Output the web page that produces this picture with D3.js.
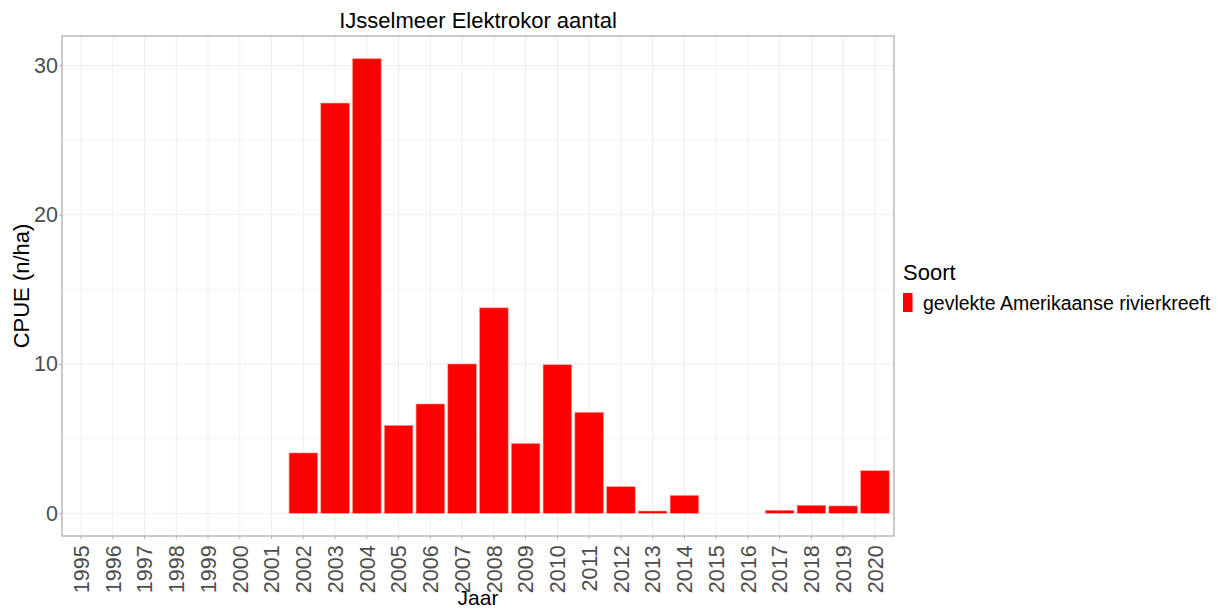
<!DOCTYPE html>
<html>
<head>
<meta charset="utf-8">
<script src="https://cdn.jsdelivr.net/npm/d3@7"></script>
<style>
  body { margin: 0; background: #fff; }
  text { font-family: "Liberation Sans", Arial, sans-serif; }
</style>
</head>
<body>
<div id="chart"></div>
<script>
// DATA
const years = d3.range(1995, 2021).map(String)
const cpue = [0, 0, 0, 0, 0, 0, 0, 4.04, 27.48, 30.45, 5.88, 7.32, 10.0, 13.76, 4.67,
    9.95, 6.76, 1.78, 0.15, 1.2, 0, 0, 0.2, 0.53, 0.49, 2.85]
const yTicks = [0, 10, 20, 30]
const yMinor = [5, 15, 25]
const seriesName = 'gevlekte Amerikaanse rivierkreeft'

const data = years.map((y, i) => ({year: y, value: cpue[i]}))

const W = 1225, H = 610
const margin = {top: 36, right: 331, bottom: 74, left: 62}
const innerW = W - margin.left - margin.right
const innerH = H - margin.top - margin.bottom

const svg = d3.select('#chart').append('svg')
    .attr('width', W)
    .attr('height', H)

const g = svg.append('g')
    .attr('transform', `translate(${margin.left},${margin.top})`)

// ggplot style discrete scale: 0.6 band expansion on both sides
const step = innerW / (years.length - 1 + 1.2)
const x = d3.scaleBand()
    .domain(years)
    .range([0.1 * step, innerW - 0.1 * step])
    .paddingInner(0.1)
    .paddingOuter(0.05)

const yMax = d3.max(cpue)
const y = d3.scaleLinear()
    .domain([-yMax * 0.05, yMax * 1.05])
    .range([innerH, 0])

// grid
g.append('g').selectAll('line.minor')
    .data(yMinor)
    .join('line')
    .attr('x1', 0).attr('x2', innerW)
    .attr('y1', d => y(d)).attr('y2', d => y(d))
    .attr('stroke', '#F4F4F4')
    .attr('stroke-width', 1)

g.append('g').selectAll('line.major')
    .data(yTicks)
    .join('line')
    .attr('x1', 0).attr('x2', innerW)
    .attr('y1', d => y(d)).attr('y2', d => y(d))
    .attr('stroke', '#EDEDED')
    .attr('stroke-width', 1)

g.append('g').selectAll('line.vgrid')
    .data(years)
    .join('line')
    .attr('x1', d => x(d) + x.bandwidth() / 2)
    .attr('x2', d => x(d) + x.bandwidth() / 2)
    .attr('y1', 0).attr('y2', innerH)
    .attr('stroke', '#EDEDED')
    .attr('stroke-width', 1)

// bars
g.append('g').selectAll('rect')
    .data(data.filter(d => d.value > 0))
    .join('rect')
    .attr('x', d => x(d.year))
    .attr('width', x.bandwidth())
    .attr('y', d => y(d.value))
    .attr('height', d => y(0) - y(d.value))
    .attr('fill', '#FF0000')
    .attr('stroke', '#FF9090')
    .attr('stroke-width', 0.6)

// panel border
g.append('rect')
    .attr('width', innerW)
    .attr('height', innerH)
    .attr('fill', 'none')
    .attr('stroke', '#A8A8A8')
    .attr('stroke-width', 1.2)

// axes
const yAxis = g.append('g')
    .call(d3.axisLeft(y).tickValues(yTicks).tickSize(3).tickPadding(1))
yAxis.select('.domain').remove()
yAxis.selectAll('line').attr('stroke', '#B3B3B3')
yAxis.selectAll('text')
    .attr('fill', '#4D4D4D')
    .style('font-size', '21.5px')

const xAxis = g.append('g')
    .attr('transform', `translate(0,${innerH})`)
    .call(d3.axisBottom(x).tickSize(3).tickPadding(2))
xAxis.select('.domain').remove()
xAxis.selectAll('line').attr('stroke', '#B3B3B3')
xAxis.selectAll('text')
    .attr('fill', '#4D4D4D')
    .style('font-size', '21.5px')
    .attr('text-anchor', 'end')
    .attr('dx', '-0.2em')
    .attr('dy', '0.36em')
    .attr('transform', 'translate(0,5) rotate(-90)')
    .attr('x', 0)
    .attr('y', 0)

// titles
svg.append('text')
    .attr('x', margin.left + innerW / 2)
    .attr('y', 28)
    .attr('text-anchor', 'middle')
    .style('font-size', '22px')
    .attr('fill', '#000')
    .text('IJsselmeer Elektrokor aantal')

svg.append('text')
    .attr('x', margin.left + innerW / 2)
    .attr('y', 605)
    .attr('text-anchor', 'middle')
    .style('font-size', '21px')
    .attr('fill', '#000')
    .text('Jaar')

svg.append('text')
    .attr('transform', `translate(29,${margin.top + innerH / 2}) rotate(-90)`)
    .attr('text-anchor', 'middle')
    .style('font-size', '22px')
    .attr('fill', '#000')
    .text('CPUE (n/ha)')

// legend
const legend = svg.append('g')
    .attr('transform', 'translate(903,0)')

legend.append('text')
    .attr('x', 0)
    .attr('y', 280)
    .style('font-size', '22px')
    .attr('fill', '#000')
    .text('Soort')

legend.append('rect')
    .attr('x', 0)
    .attr('y', 293)
    .attr('width', 9.5)
    .attr('height', 19)
    .attr('fill', '#FF0000')

legend.append('text')
    .attr('x', 20)
    .attr('y', 310)
    .style('font-size', '19.5px')
    .attr('fill', '#000')
    .text(seriesName)
</script>
</body>
</html>
